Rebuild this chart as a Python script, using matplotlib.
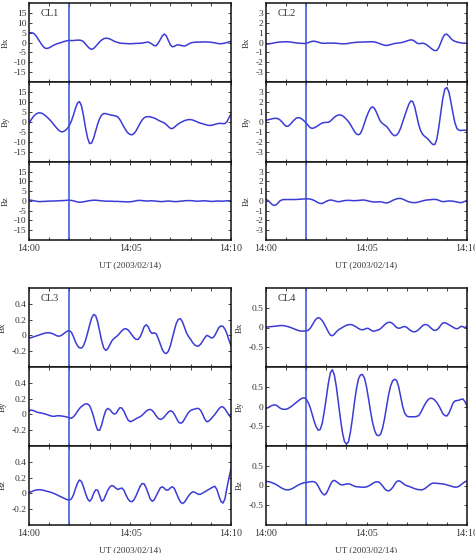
import numpy as np
import matplotlib
matplotlib.use("Agg")
import matplotlib.pyplot as plt
from matplotlib.ticker import FixedLocator, FuncFormatter

plt.rcParams['font.family'] = ['Liberation Serif', 'DejaVu Serif']

# time in minutes after 14:00, 0.1-min sampling
minutes = np.linspace(0, 10, 101)

cl1_bx = [4.8, 5.0, 4.8, 4.0, 2.6, 1.0, -0.6, -2.0, -2.9, -3.0,
          -2.7, -2.1, -1.5, -1.0, -0.6, -0.3, 0.0, 0.4, 0.7, 0.9,
          1.0, 1.0, 1.0, 1.1, 1.2, 1.2, 1.0, 0.4, -0.8, -2.0,
          -3.0, -3.5, -3.0, -2.0, -0.8, 0.4, 1.3, 1.9, 2.2, 2.1,
          1.8, 1.3, 0.7, 0.3, 0.0, -0.3, -0.4, -0.5, -0.5, -0.6,
          -0.6, -0.6, -0.5, -0.5, -0.4, -0.4, -0.3, -0.1, 0.1, 0.2,
          -0.2, -0.9, -1.6, -1.6, -0.3, 1.5, 3.4, 4.3, 3.3, 1.0,
          -1.2, -2.2, -1.9, -1.3, -1.2, -1.4, -1.7, -1.8, -1.4, -0.8,
          -0.2, 0.0, 0.1, 0.2, 0.2, 0.2, 0.3, 0.3, 0.3, 0.2,
          0.1, 0.0, -0.2, -0.4, -0.6, -0.6, -0.5, -0.3, 0.0, 0.3,
          0.6]
cl1_by = [-0.8, 1.0, 2.5, 3.6, 4.3, 4.6, 4.5, 4.0, 3.3, 2.4,
          1.4, 0.3, -0.9, -2.2, -3.4, -4.4, -4.9, -4.8, -4.2, -3.2,
          -1.7, 0.5, 3.5, 6.8, 9.5, 10.2, 8.0, 3.0, -3.0, -8.0,
          -10.8, -10.5, -8.0, -4.5, -1.0, 1.8, 3.5, 4.2, 4.2, 3.9,
          3.6, 3.4, 3.2, 3.0, 2.5, 1.2, -0.6, -2.5, -4.2, -5.5,
          -6.2, -6.4, -5.8, -4.4, -2.5, -0.6, 1.0, 2.1, 2.6, 2.7,
          2.6, 2.3, 2.0, 1.5, 0.9, 0.4, 0.0, -0.5, -1.3, -2.3,
          -3.2, -3.3, -2.6, -1.7, -0.9, -0.3, 0.2, 0.7, 1.0, 1.2,
          1.2, 1.0, 0.6, 0.2, -0.3, -0.6, -0.9, -1.2, -1.5, -1.7,
          -1.7, -1.5, -1.2, -0.9, -0.7, -0.7, -0.8, -0.8, 0.2, 2.2,
          3.9]
cl1_bz = [0.5, 0.4, 0.2, 0.0, -0.2, -0.3, -0.3, -0.2, -0.2, -0.1,
          -0.1, 0.0, 0.0, 0.0, 0.1, 0.1, 0.2, 0.2, 0.3, 0.4,
          0.4, 0.3, 0.1, -0.2, -0.5, -0.6, -0.6, -0.4, -0.2, 0.0,
          0.2, 0.3, 0.4, 0.4, 0.3, 0.2, 0.1, 0.0, -0.1, -0.1,
          -0.1, -0.1, -0.2, -0.2, -0.2, -0.3, -0.3, -0.4, -0.4, -0.5,
          -0.4, -0.3, -0.1, 0.1, 0.3, 0.3, 0.2, 0.1, 0.0, 0.0,
          0.1, 0.1, 0.0, -0.1, -0.2, -0.3, -0.3, -0.2, -0.1, 0.0,
          -0.1, -0.2, -0.3, -0.3, -0.2, -0.1, 0.0, 0.1, 0.2, 0.2,
          0.2, 0.1, 0.0, -0.1, -0.1, 0.0, 0.1, 0.1, 0.0, -0.1,
          -0.2, -0.2, -0.1, 0.0, 0.0, -0.1, -0.1, 0.0, 0.1, 0.1,
          0.1]

cl2_bx = [-0.17, -0.15, -0.12, -0.08, -0.04, 0.0, 0.03, 0.05, 0.06, 0.07,
          0.07, 0.07, 0.05, 0.02, -0.01, -0.04, -0.06, -0.08, -0.09, -0.1,
          -0.08, -0.02, 0.06, 0.12, 0.13, 0.09, 0.03, -0.03, -0.07, -0.08,
          -0.07, -0.06, -0.06, -0.06, -0.07, -0.08, -0.1, -0.12, -0.13, -0.13,
          -0.12, -0.09, -0.05, -0.02, 0.0, 0.02, 0.03, 0.04, 0.05, 0.05,
          0.06, 0.07, 0.07, 0.07, 0.05, 0.0, -0.07, -0.15, -0.22, -0.28,
          -0.3, -0.27, -0.21, -0.15, -0.1, -0.07, -0.05, -0.02, 0.02, 0.08,
          0.15, 0.22, 0.27, 0.24, 0.12, -0.05, -0.12, -0.1, -0.07, -0.12,
          -0.24, -0.4, -0.57, -0.72, -0.82, -0.8, -0.5, 0.0, 0.5, 0.82,
          0.84, 0.65, 0.4, 0.22, 0.12, 0.05, 0.0, -0.04, -0.06, -0.07,
          -0.07]
cl2_by = [0.17, 0.22, 0.27, 0.32, 0.36, 0.37, 0.33, 0.2, 0.0, -0.25,
          -0.42, -0.42, -0.25, -0.02, 0.2, 0.38, 0.44, 0.4, 0.28, 0.1,
          -0.1, -0.35, -0.57, -0.64, -0.58, -0.47, -0.35, -0.2, -0.1, -0.05,
          -0.04, -0.03, 0.08, 0.27, 0.47, 0.62, 0.7, 0.71, 0.63, 0.48,
          0.27, 0.05, -0.25, -0.6, -0.95, -1.2, -1.28, -1.15, -0.7, -0.1,
          0.5, 1.0, 1.38, 1.52, 1.35, 0.95, 0.45, 0.05, -0.15, -0.3,
          -0.45, -0.7, -1.0, -1.25, -1.38, -1.3, -1.05, -0.6, 0.0, 0.6,
          1.2, 1.75, 2.1, 2.05, 1.5, 0.6, -0.3, -0.9, -1.25, -1.45,
          -1.6, -1.8, -2.05, -2.25, -2.25, -1.7, -0.5, 1.0, 2.4, 3.3,
          3.45, 3.0, 2.0, 0.9, -0.1, -0.65, -0.82, -0.85, -0.82, -0.82,
          -0.84]
cl2_bz = [0.15, 0.05, -0.15, -0.35, -0.45, -0.4, -0.2, 0.02, 0.12, 0.15,
          0.15, 0.15, 0.15, 0.15, 0.15, 0.16, 0.17, 0.18, 0.2, 0.21,
          0.22, 0.22, 0.2, 0.14, 0.05, -0.07, -0.18, -0.25, -0.25, -0.15,
          -0.03, 0.06, 0.1, 0.08, 0.02, -0.04, -0.07, -0.05, 0.0, 0.04,
          0.06, 0.07, 0.06, 0.04, 0.03, 0.04, 0.06, 0.08, 0.1, 0.09,
          0.05, 0.0, -0.05, -0.08, -0.1, -0.1, -0.08, -0.08, -0.12, -0.18,
          -0.2, -0.15, -0.05, 0.06, 0.15, 0.22, 0.26, 0.26, 0.2, 0.1,
          0.0, -0.08, -0.13, -0.16, -0.17, -0.15, -0.1, -0.04, 0.02, 0.07,
          0.1, 0.12, 0.14, 0.16, 0.17, 0.14, 0.07, -0.02, -0.07, -0.05,
          -0.02, 0.0, 0.0, -0.02, -0.06, -0.1, -0.15, -0.17, -0.12, -0.03,
          0.05]

cl3_bx = [-0.034, -0.028, -0.02, -0.012, -0.004, 0.005, 0.014, 0.022, 0.029, 0.033,
          0.033, 0.028, 0.018, 0.005, -0.007, -0.01, 0.0, 0.018, 0.038, 0.055,
          0.06, 0.04, -0.015, -0.08, -0.13, -0.158, -0.16, -0.13, -0.06, 0.03,
          0.13, 0.22, 0.265, 0.25, 0.17, 0.05, -0.07, -0.16, -0.19, -0.17,
          -0.12, -0.07, -0.04, -0.02, 0.0, 0.03, 0.06, 0.08, 0.085, 0.07,
          0.04, 0.005, -0.03, -0.05, -0.05, -0.02, 0.04, 0.11, 0.135, 0.11,
          0.05, 0.025, 0.033, 0.02, -0.04, -0.11, -0.18, -0.22, -0.23, -0.2,
          -0.13, -0.03, 0.07, 0.16, 0.205, 0.21, 0.17, 0.1, 0.03, -0.015,
          -0.05, -0.09, -0.12, -0.135, -0.135, -0.11, -0.07, -0.03, 0.0, -0.01,
          -0.03, -0.03, 0.0, 0.05, 0.1, 0.12, 0.115, 0.08, 0.02, -0.06,
          -0.13]
cl3_by = [0.042, 0.055, 0.05, 0.04, 0.028, 0.022, 0.018, 0.012, 0.005, -0.003,
          -0.012, -0.02, -0.025, -0.022, -0.017, -0.017, -0.02, -0.024, -0.028, -0.035,
          -0.045, -0.048, -0.03, 0.0, 0.04, 0.075, 0.1, 0.12, 0.133, 0.133,
          0.11, 0.05, -0.03, -0.13, -0.2, -0.2, -0.13, -0.03, 0.05, 0.076,
          0.06, 0.03, 0.005, 0.01, 0.05, 0.085, 0.08, 0.04, -0.02, -0.07,
          -0.092, -0.085, -0.07, -0.055, -0.04, -0.03, -0.01, 0.015, 0.04, 0.058,
          0.063, 0.05, 0.02, -0.02, -0.05, -0.063, -0.055, -0.03, 0.0, 0.03,
          0.046, 0.035, 0.0, -0.05, -0.095, -0.113, -0.1, -0.06, -0.015, 0.025,
          0.05, 0.06, 0.068, 0.075, 0.075, 0.05, 0.0, -0.06, -0.093, -0.085,
          -0.06, -0.03, 0.0, 0.035, 0.07, 0.095, 0.095, 0.07, 0.03, -0.01,
          -0.042]
cl3_bz = [0.01, 0.02, 0.03, 0.04, 0.045, 0.047, 0.045, 0.04, 0.033, 0.026,
          0.02, 0.012, 0.003, -0.008, -0.02, -0.033, -0.045, -0.057, -0.07, -0.08,
          -0.085, -0.07, -0.02, 0.06, 0.13, 0.17, 0.15, 0.08, 0.0, -0.07,
          -0.1, -0.07, 0.0, 0.045, 0.04, -0.03, -0.1, -0.08, -0.02, 0.04,
          0.08, 0.1, 0.09, 0.065, 0.05, 0.06, 0.068, 0.04, -0.02, -0.07,
          -0.1, -0.105, -0.08, -0.03, 0.03, 0.09, 0.125, 0.12, 0.07, 0.0,
          -0.07, -0.1, -0.08, -0.03, 0.02, 0.07, 0.083, 0.065, 0.04, 0.045,
          0.07, 0.085, 0.06, 0.0, -0.06, -0.11, -0.128, -0.11, -0.07, -0.03,
          0.0, 0.02, 0.015, 0.0, -0.013, -0.01, 0.005, 0.02, 0.035, 0.05,
          0.065, 0.08, 0.09, 0.05, -0.03, -0.1, -0.123, -0.07, 0.07, 0.2,
          0.31]

cl4_bx = [0.01, 0.015, 0.02, 0.025, 0.03, 0.035, 0.042, 0.048, 0.05, 0.045,
          0.035, 0.02, 0.005, -0.015, -0.035, -0.055, -0.075, -0.088, -0.09, -0.09,
          -0.088, -0.07, -0.02, 0.06, 0.15, 0.22, 0.25, 0.23, 0.17, 0.09,
          -0.01, -0.11, -0.19, -0.21, -0.17, -0.11, -0.06, -0.03, 0.0, 0.03,
          0.055, 0.07, 0.076, 0.065, 0.04, 0.01, -0.025, -0.05, -0.06, -0.045,
          -0.02, -0.025, -0.06, -0.09, -0.09, -0.075, -0.06, -0.03, 0.02, 0.07,
          0.11, 0.13, 0.13, 0.1, 0.05, 0.0, -0.02, -0.01, 0.015, 0.025,
          0.005, -0.04, -0.08, -0.105, -0.11, -0.09, -0.05, 0.0, 0.05, 0.075,
          0.07, 0.04, -0.01, -0.055, -0.076, -0.06, -0.01, 0.06, 0.115, 0.12,
          0.1, 0.07, 0.04, 0.01, -0.02, -0.034, -0.01, 0.03, 0.02, -0.005,
          0.034]
cl4_by = [-0.05, -0.03, 0.0, 0.025, 0.04, 0.035, 0.0, -0.04, -0.065, -0.072,
          -0.07, -0.05, -0.02, 0.015, 0.06, 0.1, 0.14, 0.18, 0.21, 0.22,
          0.19, 0.1, -0.03, -0.2, -0.38, -0.52, -0.6, -0.58, -0.42, -0.12,
          0.22, 0.58, 0.85, 0.93, 0.8, 0.5, 0.1, -0.3, -0.65, -0.88,
          -0.95, -0.9, -0.65, -0.3, 0.1, 0.45, 0.7, 0.8, 0.81, 0.72,
          0.5, 0.2, -0.12, -0.4, -0.6, -0.72, -0.74, -0.7, -0.55, -0.3,
          0.0, 0.3, 0.52, 0.65, 0.69, 0.66, 0.5, 0.25, 0.0, -0.17,
          -0.24, -0.26, -0.26, -0.26, -0.26, -0.25, -0.23, -0.15, -0.05, 0.05,
          0.13, 0.19, 0.21, 0.2, 0.16, 0.1, 0.02, -0.08, -0.18, -0.23,
          -0.24, -0.17, -0.05, 0.08, 0.14, 0.15, 0.16, 0.18, 0.19, 0.12,
          0.017]
cl4_bz = [0.1, 0.1, 0.09, 0.07, 0.05, 0.025, -0.005, -0.04, -0.07, -0.095,
          -0.108, -0.11, -0.1, -0.08, -0.05, -0.02, 0.01, 0.035, 0.055, 0.07,
          0.077, 0.085, 0.095, 0.1, 0.095, 0.06, -0.02, -0.12, -0.2, -0.24,
          -0.2, -0.1, 0.02, 0.11, 0.13, 0.1, 0.06, 0.025, 0.015, 0.025,
          0.038, 0.043, 0.03, 0.005, -0.02, -0.03, -0.035, -0.04, -0.043, -0.043,
          -0.035, -0.015, 0.015, 0.05, 0.08, 0.093, 0.09, 0.05, -0.01, -0.08,
          -0.125, -0.137, -0.11, -0.05, 0.03, 0.1, 0.12, 0.1, 0.06, 0.02,
          -0.005, -0.02, -0.04, -0.06, -0.08, -0.095, -0.105, -0.11, -0.105, -0.08,
          -0.04, 0.0, 0.04, 0.06, 0.06, 0.055, 0.05, 0.045, 0.04, 0.03,
          0.015, 0.0, -0.015, -0.03, -0.043, -0.04, -0.02, 0.02, 0.06, 0.095,
          0.11]

stations = ["CL1", "CL2", "CL3", "CL4"]
components = ["Bx", "By", "Bz"]
series = {
    "CL1": [cl1_bx, cl1_by, cl1_bz],
    "CL2": [cl2_bx, cl2_by, cl2_bz],
    "CL3": [cl3_bx, cl3_by, cl3_bz],
    "CL4": [cl4_bx, cl4_by, cl4_bz],
}
ylims = {"CL1": (-20, 20), "CL2": (-4, 4), "CL3": (-0.4, 0.6), "CL4": (-1, 1)}
yticks = {
    "CL1": [-15, -10, -5, 0, 5, 10, 15],
    "CL2": [-3, -2, -1, 0, 1, 2, 3],
    "CL3": [-0.2, 0, 0.2, 0.4],
    "CL4": [-0.5, 0, 0.5],
}
xtick_labels = {0: "14:00", 5: "14:05", 10: "14:10"}
event_minute = 2.0
xlabel_text = "UT (2003/02/14)"

W, H = 475, 553
fig = plt.figure(figsize=(W / 100, H / 100), dpi=100)

line_col = "#3b3bd6"
vline_col = "#3550d8"
text_col = "#333333"

# pixel layout: (x0, x1, [row boundaries top->bottom])
layout = {
    "CL1": (29, 231, [3, 82, 162, 240]),
    "CL2": (266, 467, [3, 82, 162, 240]),
    "CL3": (29, 231, [288, 367, 446, 525]),
    "CL4": (266, 467, [288, 367, 446, 525]),
}


def yfmt(v, pos):
    if abs(v) < 1e-9:
        return "0"
    return "%g" % v


for st in stations:
    x0, x1, rows = layout[st]
    for k, comp in enumerate(components):
        ytop, ybot = rows[k], rows[k + 1]
        ax = fig.add_axes([x0 / W, 1 - ybot / H, (x1 - x0) / W, (ybot - ytop) / H])
        ax.plot(minutes, series[st][k], color=line_col, lw=1.1)
        ax.axvline(event_minute, color=vline_col, lw=1.1)
        ax.set_xlim(0, 10)
        ax.set_ylim(*ylims[st])
        ax.yaxis.set_major_locator(FixedLocator(yticks[st]))
        ax.yaxis.set_major_formatter(FuncFormatter(yfmt))
        ax.xaxis.set_major_locator(FixedLocator(list(range(0, 11))))
        if k == 2:
            ax.xaxis.set_major_formatter(FuncFormatter(lambda v, p: xtick_labels.get(int(round(v)), "")))
            ax.set_xlabel(xlabel_text, fontsize=6.6, color=text_col, labelpad=6)
        else:
            ax.set_xticklabels([])
        ax.tick_params(direction="in", top=True, right=True, length=2.5, width=0.6,
                       labelsize=6.8, colors="#222222", labelcolor=text_col, pad=2)
        ax.tick_params(axis="x", pad=3, labelsize=7.2)
        for sp in ax.spines.values():
            sp.set_linewidth(1.1)
            sp.set_color("#111111")
        ax.set_ylabel(comp, fontsize=6.5, color=text_col, labelpad=3)
        if k == 0:
            ax.text(0.06, 0.92, st, transform=ax.transAxes, fontsize=7.5,
                    color=text_col, va="top", ha="left")

fig.savefig("out.png", dpi=100)
